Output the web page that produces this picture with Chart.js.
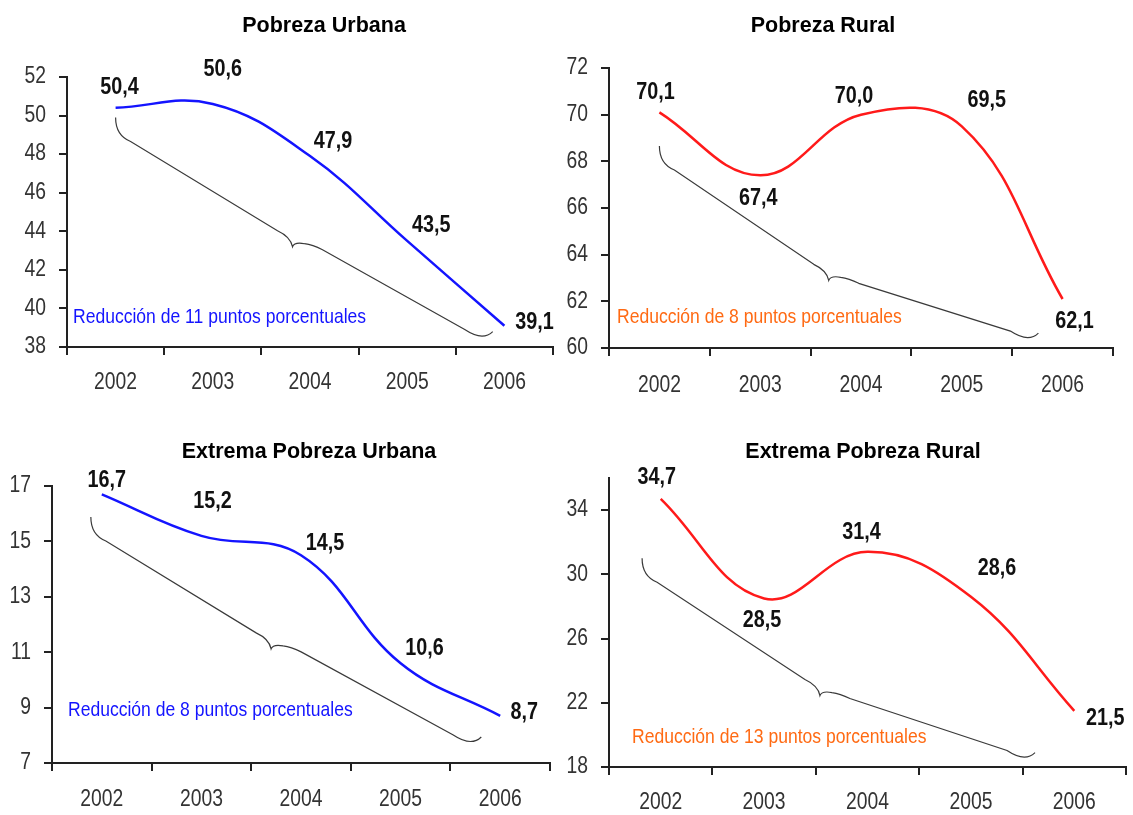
<!DOCTYPE html>
<html>
<head>
<meta charset="utf-8">
<script src="https://cdn.jsdelivr.net/npm/chart.js@4.4.0/dist/chart.umd.min.js"></script>
<style>
  html, body { margin: 0; padding: 0; background: #fff; }
  #page { position: relative; width: 1133px; height: 815px; overflow: hidden; }
  canvas { position: absolute; }
</style>
</head>
<body>
<div id="page">
  <canvas id="c1" width="566" height="405" style="left:0;top:0"></canvas>
  <canvas id="c2" width="587" height="405" style="left:546px;top:0"></canvas>
  <canvas id="c3" width="566" height="410" style="left:0;top:405px"></canvas>
  <canvas id="c4" width="587" height="410" style="left:546px;top:405px"></canvas>
</div>
<script>
// data
const years = ['2002', '2003', '2004', '2005', '2006'];

const urbana = [50.4, 50.6, 47.9, 43.5, 39.1];
const rural = [70.1, 67.4, 70.0, 69.5, 62.1];
const extUrbana = [16.7, 15.2, 14.5, 10.6, 8.7];
const extRural = [34.7, 28.5, 31.4, 28.6, 21.5];

const urbanaTicks = [38, 40, 42, 44, 46, 48, 50, 52];
const ruralTicks = [60, 62, 64, 66, 68, 70, 72];
const extUrbanaTicks = [7, 9, 11, 13, 15, 17];
const extRuralTicks = [18, 22, 26, 30, 34];

// styles
const SANS = '"Liberation Sans", Arial, sans-serif';
const AXIS = '#222';
const BLUE = '#1414ff';
const RED = '#ff1a1a';
const ORANGE = '#ff6a13';

const fmt = (v) => v.toFixed(1).replace('.', ',');

// narrow text: Liberation Sans squeezed horizontally (Arial Narrow look)
const narrowText = (ctx, text, x, y, align, squeeze) => {
  ctx.save();
  ctx.translate(x, y);
  ctx.scale(squeeze, 1);
  ctx.textAlign = align;
  ctx.fillText(text, 0, 0);
  ctx.restore();
};

// title, brace, tick labels, value labels, note
const panelDecor = {
  id: 'panelDecor',
  afterDraw(chart, args, opts) {
    const ctx = chart.ctx;
    const xs = chart.scales.x;
    const ys = chart.scales.y;
    const area = chart.chartArea;
    const p = (pt) => ({ x: xs.getPixelForValue(pt[0]), y: ys.getPixelForValue(pt[1]) });

    ctx.save();

    // curly brace
    const S = p(opts.brace[0]);
    const C = p(opts.brace[1]);
    const E = p(opts.brace[2]);
    ctx.strokeStyle = '#3a3a3a';
    ctx.lineWidth = 1.2;
    ctx.beginPath();
    ctx.moveTo(S.x, S.y);
    ctx.quadraticCurveTo(S.x, S.y + 18, S.x + 15, S.y + 24);
    ctx.lineTo(C.x - 15, C.y - 16);
    ctx.quadraticCurveTo(C.x - 2, C.y - 10, C.x, C.y);
    ctx.quadraticCurveTo(C.x + 2, C.y - 5, C.x + 12, C.y - 3);
    ctx.quadraticCurveTo(C.x + 20, C.y - 2, C.x + 30, C.y + 3);
    ctx.lineTo(E.x - 28, E.y - 2);
    ctx.quadraticCurveTo(E.x - 10, E.y + 10, E.x, E.y);
    ctx.stroke();

    // title
    ctx.fillStyle = '#000';
    ctx.font = 'bold 21.5px ' + SANS;
    ctx.textAlign = 'center';
    ctx.textBaseline = 'middle';
    ctx.fillText(opts.title, opts.titlePos[0], opts.titlePos[1]);

    // axis tick labels
    ctx.font = '23px ' + SANS;
    ctx.fillStyle = '#333';
    xs.ticks.forEach((t, i) => {
      narrowText(ctx, chart.data.labels[t.value], xs.getPixelForTick(i), area.bottom + opts.xLabelGap, 'center', 0.84);
    });
    ys.ticks.forEach((t, i) => {
      narrowText(ctx, String(t.value), area.left - 21, ys.getPixelForTick(i), 'right', 0.84);
    });

    // value labels
    const meta = chart.getDatasetMeta(0);
    const values = chart.data.datasets[0].data;
    ctx.font = 'bold 23px ' + SANS;
    ctx.fillStyle = '#111';
    meta.data.forEach((pt, i) => {
      const [dx, dy] = opts.labelOffsets[i];
      narrowText(ctx, fmt(values[i]), pt.x + dx, pt.y + dy, 'center', 0.86);
    });

    // note
    ctx.font = '21px ' + SANS;
    ctx.fillStyle = opts.noteColor;
    narrowText(ctx, opts.note, area.left + opts.notePos[0], area.bottom + opts.notePos[1], 'left', 0.835);

    ctx.restore();
  }
};

const makeChart = (id, cfg) => {
  const ctx = document.getElementById(id).getContext('2d');
  return new Chart(ctx, {
    type: 'line',
    data: {
      labels: years,
      datasets: [{
        data: cfg.values,
        borderColor: cfg.color,
        borderWidth: 2.5,
        pointRadius: 0,
        tension: 0.4,
        clip: false,
        fill: false
      }]
    },
    options: {
      responsive: false,
      animation: false,
      events: [],
      layout: { padding: cfg.padding },
      plugins: {
        legend: { display: false },
        title: { display: false },
        tooltip: { enabled: false },
        panelDecor: cfg.decor
      },
      scales: {
        x: {
          type: 'category',
          offset: true,
          grid: { offset: true, drawOnChartArea: false, tickLength: 8, color: AXIS, lineWidth: 2 },
          border: { color: AXIS, width: 2 },
          ticks: { display: false, autoSkip: false },
          afterFit: (s) => { s.height = cfg.xH; }
        },
        y: {
          min: cfg.min,
          max: cfg.max,
          grid: { drawOnChartArea: false, tickLength: 8, color: AXIS, lineWidth: 2 },
          border: { color: AXIS, width: 2 },
          ticks: { display: false },
          afterBuildTicks: (s) => { s.ticks = cfg.ticks.map((v) => ({ value: v })); },
          afterFit: (s) => { s.width = cfg.yW; }
        }
      }
    },
    plugins: [panelDecor]
  });
};

makeChart('c1', {
  values: urbana, color: BLUE, min: 38, max: 52, ticks: urbanaTicks,
  padding: { left: 17, right: 13, top: 77, bottom: 0 }, yW: 50, xH: 58,
  decor: {
    title: 'Pobreza Urbana', titlePos: [324, 26], xLabelGap: 36,
    brace: [[0, 49.9], [1.82, 43.2], [3.88, 38.8]],
    labelOffsets: [[4, -20], [10, -34], [23, -14], [24, -15], [30, -3]],
    note: 'Reducción de 11 puntos porcentuales', noteColor: BLUE, notePos: [6, -30]
  }
});

makeChart('c2', {
  values: rural, color: RED, min: 60, max: 72, ticks: ruralTicks,
  padding: { left: 25, right: 20, top: 68, bottom: 0 }, yW: 38, xH: 57,
  decor: {
    title: 'Pobreza Rural', titlePos: [277, 26], xLabelGap: 38,
    brace: [[0, 68.66], [1.68, 62.9], [3.76, 60.64]],
    labelOffsets: [[-4, -20], [-2, 23], [-7, -18], [25, -26], [12, 23]],
    note: 'Reducción de 8 puntos porcentuales', noteColor: ORANGE, notePos: [8, -31]
  }
});

makeChart('c3', {
  values: extUrbana, color: BLUE, min: 7, max: 17, ticks: extUrbanaTicks,
  padding: { left: 12, right: 16, top: 81, bottom: 0 }, yW: 40, xH: 52,
  decor: {
    title: 'Extrema Pobreza Urbana', titlePos: [309, 47], xLabelGap: 37,
    brace: [[-0.11, 15.88], [1.70, 11.12], [3.81, 7.94]],
    labelOffsets: [[5, -14], [11, -34], [24, -12], [24, -15], [24, -3]],
    note: 'Reducción de 8 puntos porcentuales', noteColor: BLUE, notePos: [16, -53]
  }
});

makeChart('c4', {
  values: extRural, color: RED, min: 18, max: 36, ticks: extRuralTicks,
  padding: { left: 25, right: 7, top: 73, bottom: 0 }, yW: 38, xH: 48,
  decor: {
    title: 'Extrema Pobreza Rural', titlePos: [317, 47], xLabelGap: 36,
    brace: [[-0.18, 31.0], [1.54, 22.45], [3.62, 18.9]],
    labelOffsets: [[-4, -21], [-2, 22], [-6, -19], [26, -28], [31, 8]],
    note: 'Reducción de 13 puntos porcentuales', noteColor: ORANGE, notePos: [23, -30]
  }
});
</script>
</body>
</html>
